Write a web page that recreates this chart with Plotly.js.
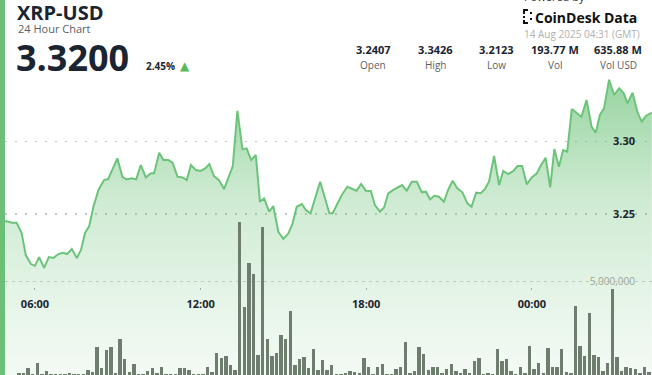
<!DOCTYPE html>
<html>
<head>
<meta charset="utf-8">
<script src="https://cdn.plot.ly/plotly-3.0.1.min.js"></script>
<style>
html,body{margin:0;padding:0;background:#fff;overflow:hidden;}
#wrap{display:flex;width:652px;height:375px;}
#bar{width:5px;height:375px;background:#6cbf78;}
#chart{width:647px;height:375px;}
</style>
</head>
<body>
<div id="wrap"><div id="bar"></div><div id="chart"></div></div>
<script>
// ---------- DATA ----------
const priceTimesDay1 = ["04:55","05:10","05:20","05:31","05:40","05:51","06:00","06:09","06:20","06:30","06:40","06:51","07:01","07:10","07:20","07:31","07:40","07:49","07:58","08:07","08:18","08:30","08:39","08:59","09:10","09:19","09:30","09:40","09:50","10:01","10:12","10:19","10:30","10:39","10:50","10:59","11:10","11:21","11:30","11:39","11:50","12:00","12:10","12:19","12:29","12:40","12:51","13:00","13:10","13:20","13:31","13:40","13:50","14:00","14:09","14:18","14:29","14:38","14:49","15:00","15:11","15:20","15:29","15:40","15:49","15:59","16:20","16:40","16:47","17:07","17:19","17:39","17:49","17:59","18:10","18:19","18:30","18:39","18:48","18:59","19:10","19:18","19:28","19:39","19:50","20:01","20:10","20:19","20:28","20:38","20:49","20:58","21:08","21:18","21:29","21:40","21:49","21:59","22:09","22:18","22:27","22:38","22:49","22:58","23:09","23:20","23:29","23:39","23:49"];
const priceTimesDay2 = ["00:00","00:11","00:19","00:30","00:40","00:49","00:59","01:08","01:17","01:27","01:38","01:48","01:59","02:10","02:19","02:28","02:37","02:48","02:59","03:10","03:20","03:28","03:39","03:50","03:59","04:08","04:21"];
const prices = [3.2452,3.2440,3.2440,3.2369,3.2217,3.2155,3.2143,3.2203,3.2128,3.2203,
3.2197,3.2224,3.2233,3.2224,3.2259,3.2197,3.2252,3.2371,3.2417,3.2550,
3.2666,3.2734,3.2741,3.2884,3.2757,3.2739,3.2746,3.2739,3.2838,3.2753,
3.2781,3.2781,3.2923,3.2872,3.2872,3.2854,3.2757,3.2753,3.2734,3.2838,
3.2803,3.2797,3.2815,3.2845,3.2762,3.2734,3.2672,3.2746,3.2831,3.3212,
3.2946,3.2953,3.2872,3.2907,3.2585,3.2608,3.2516,3.2555,3.2378,3.2328,
3.2367,3.2436,3.2550,3.2569,3.2528,3.2505,3.2723,3.2505,3.2505,3.2631,
3.2688,3.2661,3.2707,3.2661,3.2659,3.2562,3.2516,3.2546,3.2643,3.2666,
3.2688,3.2700,3.2661,3.2723,3.2723,3.2650,3.2654,3.2601,3.2626,3.2619,
3.2585,3.2666,3.2730,3.2677,3.2650,3.2574,3.2550,3.2647,3.2643,3.2672,
3.2723,3.2900,3.2700,3.2797,3.2776,3.2797,3.2831,3.2831,3.2705,
3.2753,3.2781,3.2831,3.2888,3.2684,3.2948,3.2826,3.2941,3.2930,3.3224,
3.3199,3.3171,3.3286,3.3102,3.3061,3.3183,3.3229,3.3426,3.3321,3.3367,
3.3332,3.3263,3.3337,3.3199,3.3137,3.3176,3.3200];

// volume per 10-minute interval, in millions, first bar at 05:25
const volumeStart = "2025-08-13 05:25";
const volumeMillions = [0.12,0.12,0.39,0.04,0.66,0.05,0.23,0.05,0.05,0.05,
0.05,0.12,0.05,0.05,0.05,0.27,0.18,1.48,0.39,1.34,
1.51,0.10,1.91,0.84,0.18,0.59,0.05,0.05,0.21,0.36,
0.10,0.41,0.08,0.05,0.05,0.36,0.36,0.27,0.05,0.05,
0.05,0.41,0.14,1.16,0.89,1.02,0.53,0.27,8.20,3.62,
5.97,5.40,1.07,7.90,1.91,1.02,1.16,2.14,1.93,3.44,
0.53,0.84,0.98,0.39,1.37,0.27,0.80,0.27,0.53,0.05,
0.05,0.12,0.21,0.16,0.12,0.89,0.45,0.05,0.41,0.57,
0.05,0.05,0.30,0.41,1.78,0.12,0.23,1.48,1.11,0.27,
0.45,0.45,0.09,0.30,0.57,0.21,0.09,0.30,0.09,0.75,
0.89,0.05,0.09,0.05,1.37,0.77,0.84,0.21,0.05,0.41,
0.09,1.55,0.32,0.62,0.09,1.43,0.41,0.41,1.39,0.18,
0.09,3.71,1.57,1.03,3.33,1.07,0.98,0.23,0.62,4.58,
0.94,0.23,0.45,0.36,0.30,0.09,0.45,0.18,0.30];

const priceTickVals = [3.25, 3.30];
const priceTickText = ["3.25", "3.30"];
const volTickVals = [5];
const volTickText = ["5,000,000"];

const stats = [
  {value:"3.2407", label:"Open"},
  {value:"3.3426", label:"High"},
  {value:"3.2123", label:"Low"},
  {value:"193.77 M", label:"Vol"},
  {value:"635.88 M", label:"Vol USD"}
];

// ---------- BUILD ----------
const priceTimes = priceTimesDay1.map(t => "2025-08-13 " + t)
  .concat(priceTimesDay2.map(t => "2025-08-14 " + t));

const startMs = new Date(volumeStart.replace(" ", "T") + ":00Z").getTime();
function fmt(ms){ const d=new Date(ms); const p=n=>String(n).padStart(2,"0");
  return d.getUTCFullYear()+"-"+p(d.getUTCMonth()+1)+"-"+p(d.getUTCDate())+" "+p(d.getUTCHours())+":"+p(d.getUTCMinutes()); }
const volumeTimes = volumeMillions.map((v,i) => fmt(startMs + i*600000));

const W = 647, H = 375, OFF = 5;
const px = x => (x - OFF) / W;
const py = y => 1 - y / H;
const FONT = "Open Sans, Noto Sans, sans-serif";
const DARK = "#1b2431";

const priceTrace = {
  x: priceTimes, y: prices, type: "scatter", mode: "lines",
  line: {color: "#6cc47a", width: 2, shape: "linear"},
  fill: "tozeroy",
  fillgradient: {type: "vertical", start: 3.139, stop: 3.345,
    colorscale: [[0, "rgba(110,195,122,0.08)"], [0.25, "rgba(110,195,122,0.17)"],
                 [0.6, "rgba(110,195,122,0.34)"], [1, "rgba(110,195,122,0.72)"]]},
  hoverinfo: "skip", xaxis: "x", yaxis: "y"
};
const volTrace = {
  x: volumeTimes, y: volumeMillions, type: "bar",
  width: 600000 * 0.74,
  marker: {color: "#6f7d6f", line: {width: 0}},
  hoverinfo: "skip", xaxis: "x", yaxis: "y2"
};

const annotations = [];
function ann(text, x, y, o) {
  annotations.push(Object.assign({
    text: text, xref: "paper", yref: "paper", x: px(x), y: py(y),
    xanchor: "left", yanchor: "middle", showarrow: false,
    font: {family: FONT, size: 11, color: DARK}
  }, o));
}
ann("XRP-USD", 15, 12.5, {font: {family: FONT, size: 20, color: DARK, weight: 700}});
ann("24 Hour Chart", 16, 28.5, {font: {family: FONT, size: 11, color: "#5a5f66"}});
ann("3.3200", 14, 57, {font: {family: FONT, size: 36, color: DARK, weight: 700}});
ann("2.45%", 144, 66, {font: {family: FONT, size: 10, color: DARK, weight: 700}});
ann("▲", 178, 66, {font: {family: "DejaVu Sans", size: 12, color: "#5cb85c"}});
ann("Powered by", 522, -3, {font: {family: FONT, size: 11, color: "#333"}});
ann("CoinDesk Data", 533, 17, {font: {family: FONT, size: 14, color: "#111", weight: 700}});
ann("14 Aug 2025 04:31 (GMT)", 522, 34, {font: {family: FONT, size: 10, color: "#b0b0b0"}});
const statCenters = [373, 435, 496, 555, 618];
stats.forEach((s, i) => {
  ann(s.value, statCenters[i], 50, {xanchor: "center", font: {family: FONT, size: 11, color: DARK, weight: 700}});
  ann(s.label, statCenters[i], 65, {xanchor: "center", font: {family: FONT, size: 10, color: "#5a5f66"}});
});

// logo glyph
const shapes = [];
function rect(x0, y0, x1, y1, c) {
  shapes.push({type: "rect", xref: "paper", yref: "paper", x0: px(x0), x1: px(x1), y0: py(y1), y1: py(y0),
    fillcolor: c, line: {width: 0}, layer: "above"});
}
rect(523, 9, 525, 14, "#111"); rect(523, 16, 525, 18, "#111"); rect(523, 20, 525, 24, "#111");
rect(525, 9, 528, 11, "#111"); rect(525, 22, 528, 24, "#111");
rect(530, 12, 532, 14, "#111"); rect(530, 18, 532, 20, "#111");

const layout = {
  width: 647, height: 375,
  margin: {l: 0, r: 0, t: 0, b: 0, pad: 0},
  paper_bgcolor: "#fff", plot_bgcolor: "rgba(0,0,0,0)",
  showlegend: false, hovermode: false, bargap: 0,
  xaxis: {
    type: "date", range: ["2025-08-13 04:54:49", "2025-08-14 04:21:18"],
    anchor: "free", position: (375 - 287) / 375,
    tick0: "2025-08-13 00:00", dtick: 6 * 3600000, tickformat: "%H:%M",
    ticks: "outside", ticklen: 2, tickwidth: 1, tickcolor: "#aaa",
    ticklabelstandoff: 5,
    showgrid: false, zeroline: false, showline: false,
    tickfont: {family: FONT, size: 11, color: DARK, weight: 700}
  },
  yaxis: {
    range: [3.139, 3.3976], side: "right",
    tickvals: priceTickVals, ticktext: priceTickText,
    ticklabelposition: "inside", ticklabelstandoff: 14, ticks: "",
    showgrid: true, gridcolor: "#c4c4c4", gridwidth: 1.5, griddash: "1.5px,8.5px",
    zeroline: false, showline: false,
    tickfont: {family: FONT, size: 11, color: DARK, weight: 700}
  },
  yaxis2: {
    overlaying: "y", side: "right", range: [0, 20.05],
    tickvals: volTickVals, ticktext: volTickText,
    ticklabelposition: "inside", ticklabelstandoff: 14, ticks: "",
    showgrid: true, gridcolor: "#c9d3c9", gridwidth: 1, griddash: "3px,4px",
    zeroline: false, showline: false,
    tickfont: {family: FONT, size: 10, color: "#9aa69a"}
  },
  annotations: annotations,
  shapes: shapes
};

Plotly.newPlot("chart", [priceTrace, volTrace], layout, {displayModeBar: false, staticPlot: true});
</script>
</body>
</html>
